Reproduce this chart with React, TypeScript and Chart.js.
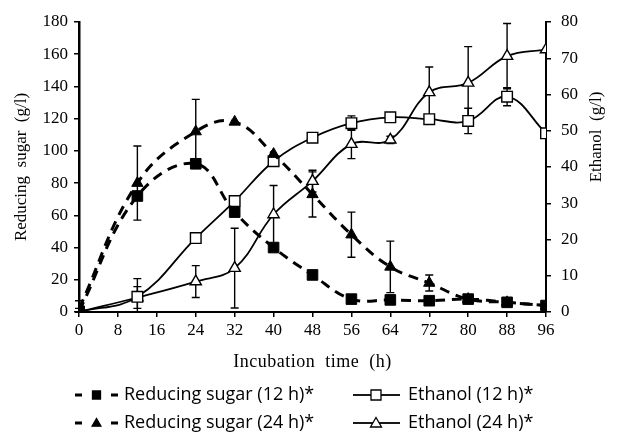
import React, { useEffect, useRef } from "react";
import { Chart, registerables } from "chart.js";

Chart.register(...registerables);

const hours = [0, 12, 24, 32, 40, 48, 56, 64, 72, 80, 88, 96];
const sugar12 = [0.5, 72, 92, 62, 40, 23, 8, 7.5, 7, 8, 6, 4];
const sugar12Err = [0, 0, 0, 0, 0, 0, 0, 0, 0, 0, 0, 0];
const sugar24 = [2, 80, 112, 118, 98, 73, 48, 28, 18, 8, 6, 4];
const sugar24Err = [5, 23, 20, 0, 0, 14, 14, 16, 5, 0, 0, 0];
const ethanol12 = [0, 4.2, 20.4, 30.6, 41.6, 48.1, 52.1, 53.7, 53.2, 52.7, 59.4, 49.3];
const ethanol12Err = [0, 5, 1, 0, 1, 1, 2, 1, 1, 3.5, 2.5, 0];
const ethanol24 = [0, 4, 8.4, 12.1, 26.9, 36.1, 46.3, 47.5, 60.6, 63.2, 70.6, 72.4];
const ethanol24Err = [1, 3, 4.4, 11, 8, 3, 4, 1, 7, 10, 9, 0];

const xTitle = "Incubation  time  (h)";
const yTitle = "Reducing  sugar  (g/l)";
const y1Title = "Ethanol  (g/l)";
const legendLabels = [
  "Reducing sugar (12 h)*",
  "Reducing sugar (24 h)*",
  "Ethanol (12 h)*",
  "Ethanol (24 h)*",
];

const SERIF = "'Liberation Serif', 'DejaVu Serif', serif";
const SANS = "'Open Sans', 'Liberation Sans', sans-serif";

function toPoints(ys: number[]) {
  return hours.map((h, i) => ({ x: h, y: ys[i] }));
}

const errorBarsPlugin = {
  id: "errorBars",
  beforeDatasetsDraw(chart: any) {
    const ctx = chart.ctx;
    const xs = chart.scales.x;
    ctx.save();
    ctx.setLineDash([]);
    ctx.strokeStyle = "#000";
    ctx.lineWidth = 1.4;
    chart.data.datasets.forEach((ds: any) => {
      const ys = chart.scales[ds.yAxisID];
      ds.data.forEach((p: any, i: number) => {
        const e = ds.errors ? ds.errors[i] : 0;
        if (!e) return;
        const x = xs.getPixelForValue(p.x);
        const yt = ys.getPixelForValue(p.y + e);
        const yb = ys.getPixelForValue(Math.max(0, p.y - e));
        ctx.beginPath();
        ctx.moveTo(x, yt);
        ctx.lineTo(x, yb);
        ctx.moveTo(x - 4, yt);
        ctx.lineTo(x + 4, yt);
        ctx.moveTo(x - 4, yb);
        ctx.lineTo(x + 4, yb);
        ctx.stroke();
      });
    });
    ctx.restore();
  },
};

function drawMarker(ctx: CanvasRenderingContext2D, kind: string, x: number, y: number, filled: boolean, s: number) {
  ctx.setLineDash([]);
  ctx.beginPath();
  if (kind === "rect") {
    ctx.rect(x - s, y - s, 2 * s, 2 * s);
  } else {
    ctx.moveTo(x, y - s * 1.1);
    ctx.lineTo(x + s * 1.1, y + s * 0.8);
    ctx.lineTo(x - s * 1.1, y + s * 0.8);
    ctx.closePath();
  }
  ctx.fillStyle = filled ? "#000" : "#fff";
  ctx.fill();
  ctx.strokeStyle = "#000";
  ctx.lineWidth = 1.3;
  ctx.stroke();
}

const titlesLegendPlugin = {
  id: "titlesLegend",
  afterDraw(chart: any) {
    const ctx = chart.ctx as any;
    const area = chart.chartArea;
    ctx.save();
    ctx.setLineDash([]);
    ctx.fillStyle = "#000";
    ctx.textAlign = "center";
    ctx.textBaseline = "middle";
    // x title
    ctx.font = `18px ${SERIF}`;
    ctx.letterSpacing = "0.5px";
    ctx.fillText(xTitle, (area.left + area.right) / 2, 362);
    ctx.letterSpacing = "0px";
    // left title
    ctx.save();
    ctx.translate(22, (area.top + area.bottom) / 2);
    ctx.rotate(-Math.PI / 2);
    ctx.font = `17px ${SERIF}`;
    ctx.fillText(yTitle, 0, 0);
    ctx.restore();
    // right title
    ctx.save();
    ctx.translate(597, 137);
    ctx.rotate(-Math.PI / 2);
    ctx.font = `17px ${SERIF}`;
    ctx.fillText(y1Title, 0, 0);
    ctx.restore();

    // legend
    const rows = [395, 423];
    ctx.font = `18px ${SANS}`;
    ctx.textAlign = "left";
    rows.forEach((ry: number, r: number) => {
      ctx.fillStyle = "#000";
      ctx.fillRect(75, ry - 1.5, 7, 3);
      ctx.fillRect(111, ry - 1.5, 7, 3);
      drawMarker(ctx, r === 0 ? "rect" : "tri", 96.5, ry, true, 4);
      ctx.fillStyle = "#000";
      ctx.fillText(legendLabels[r], 124, ry);
      ctx.fillRect(353, ry - 0.9, 47, 1.8);
      drawMarker(ctx, r === 0 ? "rect" : "tri", 376, ry, false, 5);
      ctx.fillStyle = "#000";
      ctx.fillText(legendLabels[2 + r], 408, ry);
    });
    ctx.restore();
  },
};

export default function App() {
  const ref = useRef<HTMLCanvasElement>(null);
  useEffect(() => {
    if (!ref.current) return;
    const sugarBase = {
      borderColor: "#000",
      borderWidth: 3,
      borderDash: [10, 7],
      pointBackgroundColor: "#000",
      pointBorderColor: "#000",
      pointBorderWidth: 1,
      tension: 0.4,
      yAxisID: "y",
    };
    const ethBase = {
      borderColor: "#000",
      borderWidth: 1.8,
      pointBackgroundColor: "#fff",
      pointBorderColor: "#000",
      pointBorderWidth: 1.4,
      tension: 0.4,
      yAxisID: "y1",
    };
    const tickFont = { family: SERIF, size: 17 };
    const chart = new Chart(ref.current, {
      type: "line",
      data: {
        datasets: [
          { ...sugarBase, label: legendLabels[0], data: toPoints(sugar12), errors: sugar12Err, pointStyle: "rect", pointRadius: 7.5 } as any,
          { ...sugarBase, label: legendLabels[1], data: toPoints(sugar24), errors: sugar24Err, pointStyle: "triangle", pointRadius: 6.5 } as any,
          { ...ethBase, label: legendLabels[2], data: toPoints(ethanol12), errors: ethanol12Err, pointStyle: "rect", pointRadius: 7.5 } as any,
          { ...ethBase, label: legendLabels[3], data: toPoints(ethanol24), errors: ethanol24Err, pointStyle: "triangle", pointRadius: 6.5 } as any,
        ],
      },
      options: {
        responsive: false,
        animation: false,
        layout: { padding: { top: 22 } },
        plugins: { legend: { display: false }, tooltip: { enabled: false } },
        scales: {
          x: {
            type: "linear",
            min: 0,
            max: 96,
            ticks: { stepSize: 8, color: "#000", font: tickFont, padding: 3, maxRotation: 0 },
            grid: { drawOnChartArea: false, drawTicks: true, tickLength: 5, color: "#000", lineWidth: 1.5 },
            border: { display: true, color: "#000", width: 2 },
            afterFit(scale: any) {
              scale.height = 125;
              scale.paddingLeft = 0;
              scale.paddingRight = 0;
            },
          },
          y: {
            position: "left",
            min: 0,
            max: 180,
            ticks: { stepSize: 20, color: "#000", font: tickFont, padding: 6 },
            grid: { drawOnChartArea: false, drawTicks: true, tickLength: 5, color: "#000", lineWidth: 1.5 },
            border: { display: true, color: "#000", width: 2.5 },
            afterFit(scale: any) {
              scale.width = 79;
              scale.paddingTop = 0;
              scale.paddingBottom = 0;
            },
          },
          y1: {
            position: "right",
            min: 0,
            max: 80,
            ticks: { stepSize: 10, color: "#000", font: tickFont, padding: 10 },
            grid: { drawOnChartArea: false, drawTicks: true, tickLength: 5, color: "#000", lineWidth: 1.5 },
            border: { display: true, color: "#000", width: 2 },
            afterFit(scale: any) {
              scale.width = 72;
              scale.paddingTop = 0;
              scale.paddingBottom = 0;
            },
          },
        },
      } as any,
      plugins: [errorBarsPlugin, titlesLegendPlugin],
    });
    return () => chart.destroy();
  }, []);
  return (
    <div style={{ position: "absolute", left: 0, top: 0, width: 618, height: 437, background: "#fff" }}>
      <canvas ref={ref} width={618} height={437} style={{ display: "block" }} />
    </div>
  );
}
